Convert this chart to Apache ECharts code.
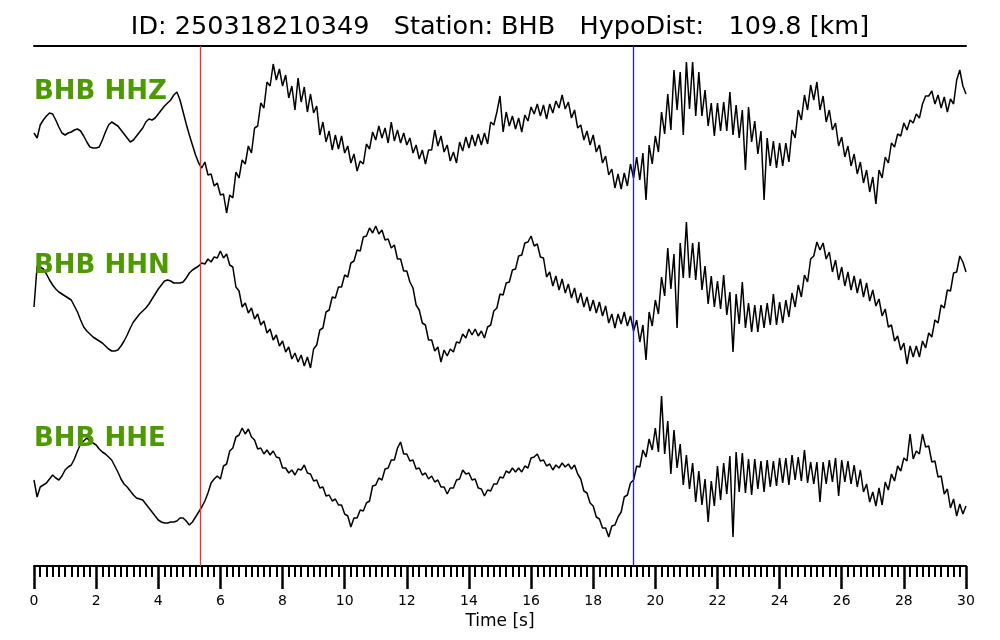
<!DOCTYPE html>
<html>
<head>
<meta charset="utf-8">
<script src="https://cdn.jsdelivr.net/npm/echarts@6/dist/echarts.min.js"></script>
<style>
html,body{margin:0;padding:0;background:#fff;}
#chart{width:1000px;height:640px;}
</style>
</head>
<body>
<div id="chart"></div>
<script>
// ---- data (amplitudes, arbitrary units) ----
const titleText = 'ID: 250318210349   Station: BHB   HypoDist:   109.8 [km]';
const channelNames = ['BHB HHZ', 'BHB HHN', 'BHB HHE'];
const sampleStep = 0.1; // s
const pPick = 5.34;  // s, red line
const sPick = 19.29; // s, blue line

const hhz = [
 7, 2, 15, 20, 24, 27, 26, 20, 13, 7,
 5, 7, 8, 10, 11, 9, 4, -2, -7, -8,
 -8, -7, 0, 8, 15, 18, 16, 14, 10, 6,
 2, -2, 0, 4, 8, 12, 18, 21, 20, 22,
 26, 30, 34, 37, 40, 45, 48, 40, 28, 16,
 5, -5, -15, -23, -28, -22, -35, -34, -46, -43,
 -55, -54, -73, -55, -58, -32, -38, -20, -24, -6,
 -13, 12, 14, 37, 32, 58, 54, 76, 60, 71,
 54, 65, 42, 54, 30, 62, 38, 53, 28, 46,
 27, 34, 5, 18, -2, 9, -10, 5, -9, 4,
 -13, -6, -23, -14, -31, -21, -24, -4, -9, 8,
 0, 14, 2, 12, -3, 18, -1, 10, -3, 7,
 -5, 2, -13, -5, -19, -10, -24, -10, -10, 10,
 -6, 4, -12, -5, -21, -12, -23, -2, -11, 3,
 -8, 5, -6, 6, -5, 7, -4, 18, 15, 28,
 44, 8, 28, 14, 24, 11, 22, 8, 25, 19,
 33, 26, 36, 24, 35, 21, 36, 27, 39, 32,
 45, 31, 38, 22, 30, 12, 15, 0, 9, -5,
 5, -12, -5, -23, -16, -35, -29, -48, -34, -49,
 -33, -46, -24, -38, -17, -40, -13, -60, -5, -24,
 4, -12, 28, 6, 46, 10, 70, 30, 68, 5,
 78, 31, 78, 24, 68, 24, 50, 14, 37, 4,
 37, 9, 38, 9, 48, 5, 35, 2, 30, -30,
 33, -2, 19, -14, 9, -60, 2, -26, -1, -28,
 -3, -26, -3, -22, 10, 2, 30, 20, 45, 30,
 55, 40, 58, 30, 44, 18, 30, 10, 17, -6,
 3, -17, -6, -26, -14, -34, -22, -43, -30, -52,
 -37, -64, -30, -38, -17, -23, -3, -7, 6, 4,
 17, 10, 20, 17, 26, 22, 36, 44, 44, 49,
 36, 45, 32, 43, 28, 41, 36, 60, 70, 54,
 46
];

const hhn = [
 -5, 36, 35, 33, 28, 22, 17, 13, 10, 8,
 6, 4, 2, -4, -10, -18, -25, -29, -32, -35,
 -37, -39, -41, -44, -47, -49, -49, -48, -44, -39,
 -33, -26, -20, -16, -12, -9, -6, -2, 3, 8,
 13, 17, 21, 22, 21, 19, 19, 19, 20, 24,
 29, 32, 34, 36, 39, 38, 43, 40, 45, 44,
 51, 44, 48, 37, 35, 15, 11, -5, -1, -11,
 -6, -17, -12, -23, -19, -31, -27, -38, -33, -44,
 -39, -50, -45, -57, -51, -60, -53, -64, -55, -66,
 -47, -43, -28, -26, -10, -8, 5, 4, 15, 15,
 27, 25, 39, 41, 52, 51, 65, 66, 74, 69,
 76, 68, 72, 62, 63, 54, 57, 43, 43, 31,
 31, 20, 14, -3, -8, -21, -23, -38, -38, -49,
 -45, -60, -48, -54, -47, -50, -40, -41, -32, -36,
 -27, -33, -27, -34, -29, -36, -25, -23, -9, -6,
 8, 7, 19, 20, 32, 33, 46, 47, 59, 60,
 66, 56, 58, 45, 44, 25, 30, 16, 26, 12,
 23, 9, 18, 4, 14, -1, 9, -5, 5, -9,
 2, -11, 0, -14, -4, -21, -12, -26, -12, -22,
 -10, -24, -14, -29, -18, -40, -23, -58, -10, -24,
 2, -12, 25, 6, 54, 13, 48, -26, 59, 24,
 80, 24, 59, 22, 60, 12, 36, -2, 26, -5,
 21, -7, 27, -13, 10, -50, 8, -22, 20, -26,
 -1, -30, -3, -30, -3, -26, -1, -23, 8, -23,
 0, -21, 2, -15, 9, -5, 17, 5, 27, 20,
 43, 46, 60, 52, 59, 43, 50, 30, 42, 22,
 35, 16, 30, 12, 26, 9, 23, 5, 19, 1,
 12, -4, 3, -14, -7, -25, -23, -39, -34, -48,
 -41, -62, -44, -55, -44, -55, -39, -46, -31, -35,
 -18, -21, -3, -6, 12, 11, 29, 30, 46, 40,
 30
];

const hhe = [
 -8, -25, -15, -13, -11, -7, -3, -6, -8, -4,
 2, 5, 7, 13, 21, 28, 31, 34, 31, 29,
 27, 23, 20, 18, 15, 12, 6, 0, -7, -12,
 -15, -19, -23, -26, -27, -28, -32, -36, -40, -44,
 -48, -50, -51, -51, -50, -50, -49, -46, -46, -49,
 -53, -50, -45, -40, -35, -29, -21, -11, -7, -4,
 -7, 6, 8, 21, 24, 35, 37, 44, 38, 43,
 35, 32, 23, 24, 18, 22, 17, 21, 15, 14,
 4, 4, -1, 2, -3, 3, 2, 7, -1, -2,
 -9, -8, -16, -15, -24, -23, -29, -27, -33, -33,
 -42, -44, -55, -46, -46, -38, -39, -31, -29, -14,
 -13, -6, -8, 3, 4, 12, 12, 24, 30, 18,
 18, 11, 12, 3, 4, -3, -1, -7, -4, -10,
 -8, -15, -15, -22, -16, -16, -8, -7, 2, -2,
 -1, -8, -7, -16, -17, -24, -18, -19, -12, -12,
 -5, -6, 1, -1, 4, 0, 4, 0, 6, 4,
 14, 15, 18, 11, 12, 6, 8, 2, 7, 4,
 9, 5, 8, 3, 7, -2, -7, -19, -21, -31,
 -34, -45, -47, -56, -56, -65, -54, -53, -45, -40,
 -25, -23, -11, -8, 6, 5, 22, 15, 33, 22,
 44, 20, 76, 18, 51, -2, 42, 4, 28, -13,
 17, -17, 9, -30, 1, -33, -7, -50, -9, -34,
 6, -28, 9, -22, 16, -65, 20, -20, 19, -21,
 13, -23, 13, -17, 11, -20, 12, -15, 11, -14,
 14, -11, 14, -13, 17, -8, 15, -9, 22, -11,
 10, -12, 10, -30, 10, -12, 12, -10, 14, -24,
 12, -10, 11, -12, 7, -15, 2, -20, -12, -30,
 -20, -34, -16, -33, -10, -18, -2, -9, 6, 1,
 14, 11, 38, 13, 21, 18, 38, 25, 26, 10,
 11, -5, -4, -22, -17, -36, -27, -44, -32, -42,
 -34
];

// ---- chart ----
const FONT = 'DejaVu Sans';
const times = hhz.map((_, i) => +(i * sampleStep).toFixed(1));
const pairs = arr => arr.map((v, i) => [times[i], v]);

const chart = echarts.init(document.getElementById('chart'), null, {renderer: 'canvas'});

const traceGrids = [
  {left: 34, width: 932, top: 50, height: 180},
  {left: 34, width: 932, top: 212, height: 180},
  {left: 34, width: 932, top: 386, height: 180}
];
const yRanges = [[-90, 90], [-90, 90], [-94, 86]];
const traces = [hhz, hhn, hhe];
const labelTops = [79, 253, 426];
const labelColor = '#4c9900';

const option = {
  animation: false,
  backgroundColor: '#ffffff',
  grid: [{left: 34, width: 932, top: 46, height: 520}].concat(traceGrids),
  xAxis: [
    {
      gridIndex: 0, type: 'value', min: 0, max: 30, interval: 2, position: 'bottom',
      axisLine: {show: true, onZero: false, lineStyle: {color: '#000', width: 2}},
      axisTick: {show: true, inside: false, length: 23, lineStyle: {color: '#000', width: 2.5}},
      minorTick: {show: true, splitNumber: 10, length: 11, lineStyle: {color: '#000', width: 2}},
      axisLabel: {show: true, color: '#000', fontSize: 14, fontFamily: FONT, margin: 28},
      splitLine: {show: false},
      name: 'Time [s]', nameLocation: 'middle', nameGap: 37,
      nameTextStyle: {color: '#000', fontSize: 17, fontFamily: FONT}
    },
    {
      gridIndex: 0, type: 'value', min: 0, max: 30, position: 'top',
      axisLine: {show: true, onZero: false, lineStyle: {color: '#000', width: 2}},
      axisTick: {show: false}, axisLabel: {show: false}, splitLine: {show: false}
    }
  ].concat(traceGrids.map((g, i) => ({
    gridIndex: i + 1, type: 'value', min: 0, max: 30, show: false
  }))),
  yAxis: [
    {gridIndex: 0, type: 'value', min: -1, max: 1, show: false}
  ].concat(traceGrids.map((g, i) => ({
    gridIndex: i + 1, type: 'value', min: yRanges[i][0], max: yRanges[i][1], show: false
  }))),
  series: [
    {
      type: 'line', xAxisIndex: 0, yAxisIndex: 0,
      data: [[0, 0], [30, 0]], showSymbol: false, silent: true,
      lineStyle: {opacity: 0},
      markLine: {
        silent: true, symbol: ['none', 'none'], animation: false,
        label: {show: false},
        data: [
          {xAxis: pPick, lineStyle: {color: '#ff2a2a', width: 1.3, type: 'solid'}},
          {xAxis: sPick, lineStyle: {color: '#2020ff', width: 1.3, type: 'solid'}}
        ]
      }
    }
  ].concat(traces.map((arr, i) => ({
    type: 'line', xAxisIndex: i + 2, yAxisIndex: i + 1,
    data: pairs(arr), showSymbol: false, clip: false, silent: true,
    lineStyle: {color: '#000', width: 1.5}, z: 3
  }))),
  graphic: [
    {type: 'text', left: 'center', top: 14, z: 10,
     style: {text: titleText, font: '25.5px "' + FONT + '"', fill: '#000'}}
  ].concat(channelNames.map((name, i) => ({
    type: 'text', left: 34, top: labelTops[i], z: 10,
    style: {text: name, font: 'bold 26px "' + FONT + '"', fill: labelColor}
  })))
};

chart.setOption(option);
</script>
</body>
</html>
